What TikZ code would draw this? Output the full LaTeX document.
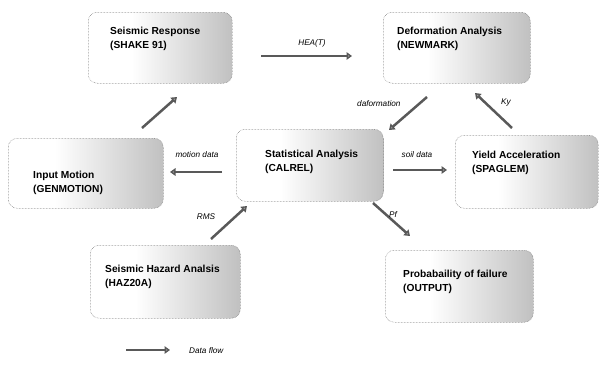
\documentclass[tikz,border=0pt]{standalone}
\usepackage{fontspec}
\setmainfont{Liberation Sans}
\usetikzlibrary{arrows.meta,calc}
\pgfdeclarehorizontalshading{boxshade}{100bp}{color(0bp)=(white); color(40bp)=(white); color(100bp)=(black!42)}
\tikzset{
  procbox/.style={draw=black!55, densely dotted, line width=0.5pt, rounded corners=9pt, shading=boxshade, inner sep=0pt},
  boxtext/.style={anchor=north west, align=left, inner sep=0pt, font=\bfseries\fontsize{10.2}{14}\selectfont},
  flow/.style={draw=black!65, line width=2.5pt, -{Triangle[length=5.5pt,width=7.5pt,fill=black!40]}},
  flowlbl/.style={inner sep=1pt, font=\itshape\fontsize{8.2}{9}\selectfont}
}
\begin{document}
\begin{tikzpicture}[x=1pt,y=-1pt]
\useasboundingbox (0,0) rectangle (599,367);
% boxes
\node[procbox, minimum width=144pt, minimum height=71pt, anchor=north west] (sr) at (88,12) {};
\node[procbox, minimum width=147pt, minimum height=71pt, anchor=north west] (da) at (383,12) {};
\node[procbox, minimum width=155pt, minimum height=70pt, anchor=north west] (im) at (8,138) {};
\node[procbox, minimum width=147pt, minimum height=72pt, anchor=north west] (st) at (236,129) {};
\node[procbox, minimum width=143pt, minimum height=73pt, anchor=north west] (ya) at (455,135) {};
\node[procbox, minimum width=150pt, minimum height=73pt, anchor=north west] (sh) at (90,245) {};
\node[procbox, minimum width=148pt, minimum height=72pt, anchor=north west] (pf) at (385,250) {};
% box texts
\node[boxtext] (srt) at ($(sr.north west)+(22,15)$) {Seismic Response\\(SHAKE 91)};
\node[boxtext] (dat) at ($(da.north west)+(14,15)$) {Deformation Analysis\\(NEWMARK)};
\node[boxtext] (imt) at ($(im.north west)+(25,33)$) {Input Motion\\(GENMOTION)};
\node[boxtext] (stt) at ($(st.north west)+(29,21)$) {Statistical Analysis\\(CALREL)};
\node[boxtext] (yat) at ($(ya.north west)+(17,16)$) {Yield Acceleration\\(SPAGLEM)};
\node[boxtext] (sht) at ($(sh.north west)+(15,20)$) {Seismic Hazard Analsis\\(HAZ20A)};
\node[boxtext] (pft) at ($(pf.north west)+(18,20)$) {Probabaility of failure\\(OUTPUT)};
% arrow end points
\coordinate (a1s) at (142,128); \coordinate (a1e) at (177,97);
\coordinate (a2s) at (261,56);  \coordinate (a2e) at (352,56);
\coordinate (a3s) at (427,97);  \coordinate (a3e) at (389,130);
\coordinate (a4s) at (512,128); \coordinate (a4e) at (475,93);
\coordinate (a5s) at (222,172); \coordinate (a5e) at (170,172);
\coordinate (a6s) at (393,170); \coordinate (a6e) at (447,170);
\coordinate (a7s) at (211,239); \coordinate (a7e) at (247,206);
\coordinate (a8s) at (373,203); \coordinate (a8e) at (410,236);
\coordinate (a9s) at (126,350); \coordinate (a9e) at (170,350);
% connectors
\draw[flow] (a1s) -- (a1e);
\draw[flow] (a2s) -- (a2e);
\node[flowlbl] (l2) at (312,43) {HEA(T)};
\draw[flow] (a3s) -- (a3e);
\node[flowlbl, anchor=west] (l3) at (356,104) {daformation};
\draw[flow] (a4s) -- (a4e);
\node[flowlbl, anchor=west] (l4) at (500,103) {Ky};
\draw[flow] (a5s) -- (a5e);
\node[flowlbl] (l5) at (197,155) {motion data};
\draw[flow] (a6s) -- (a6e);
\node[flowlbl] (l6) at (417,155) {soil data};
\draw[flow] (a7s) -- (a7e);
\node[flowlbl] (l7) at (206,217) {RMS};
\draw[flow] (a8s) -- (a8e);
\node[flowlbl] (l8) at (393,215) {Pf};
\draw[flow] (a9s) -- (a9e);
\node[flowlbl, anchor=west] (l9) at (188,351) {Data flow};
\end{tikzpicture}
\end{document}
